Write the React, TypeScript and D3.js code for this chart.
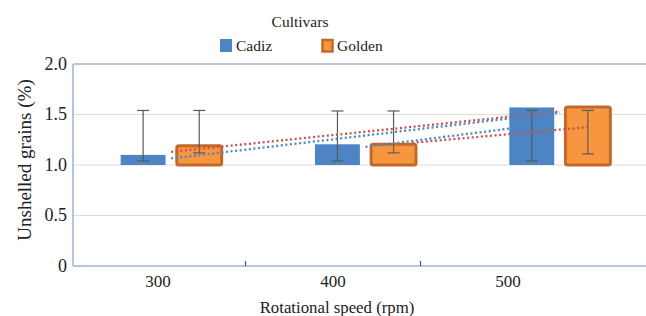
import * as d3 from 'd3'

// rotational speeds (categories)
const speeds = ['300', '400', '500']
const series = ['Cadiz', 'Golden']

// bar heights (% unshelled grains), bars rise from the 1.0 base
const cadiz = [1.1, 1.205, 1.57]
const golden = [1.19, 1.205, 1.575]

// error bar ends
const cadizErrHigh = [1.54, 1.535, 1.54]
const cadizErrLow = [1.04, 1.04, 1.04]
const goldenErrHigh = [1.54, 1.535, 1.54]
const goldenErrLow = [1.12, 1.12, 1.11]

// dotted trend lines: [category position, value]
const cadizTrend: [number, number][] = [[0, 1.065], [2, 1.52]]
const goldenTrend: [number, number][] = [[0, 1.13], [2, 1.53]]
const cadizTrend2: [number, number][] = [[1.0, 1.18], [1.74, 1.36]]
const goldenTrend2: [number, number][] = [[1.24, 1.22], [2.15, 1.376]]

const yTicks = [0, 0.5, 1.0, 1.5, 2.0]
const yTickLabels = ['0', '0.5', '1.0', '1.5', '2.0']

const W = 646
const H = 316
const BLUE = '#4d84c4'
const ORANGE = '#f7963f'
const ORANGE_EDGE = '#c0692a'
const RED_DOT = '#c8504d'
const AXIS = '#9db4d6'
const GRID = '#dcdcdc'
const FONT = "'Liberation Serif', 'DejaVu Serif', serif"

export default function App() {
  const left = 73
  const y = d3.scaleLinear().domain([0, 2]).range([266, 64])

  // axis label positions
  const xLab = d3.scaleBand<string>().domain(speeds).range([70.5, 595.5])
  // bar group positions
  const xBar = d3.scaleBand<string>().domain(speeds).range([74, 657])
  const groupW = 101
  const x1 = d3.scaleBand<string>().domain(series).range([0, groupW]).paddingInner(0.2)
  const groupX = (s: string) => (xBar(s) as number) + xBar.bandwidth() / 2 - groupW / 2
  const xTrend = d3.scaleLinear().domain([0, 2]).range([
    (xBar('300') as number) + xBar.bandwidth() / 2,
    (xBar('500') as number) + xBar.bandwidth() / 2,
  ])
  const line = d3.line<[number, number]>().x(d => xTrend(d[0])).y(d => y(d[1]))

  const base = 1.0
  const bars = [
    { name: 'Cadiz', vals: cadiz, hi: cadizErrHigh, lo: cadizErrLow },
    { name: 'Golden', vals: golden, hi: goldenErrHigh, lo: goldenErrLow },
  ]
  const txt = { fontFamily: FONT, fill: '#222' }

  return (
    <div style={{ position: 'absolute', left: 0, top: 0 }}>
      <svg width={W} height={H} style={{ display: 'block', background: '#fff' }}>
        {/* legend */}
        <text x={300} y={27} textAnchor="middle" fontSize={15.5} style={txt}>Cultivars</text>
        <rect x={220} y={39} width={12} height={13} fill={BLUE} />
        <text x={236} y={51} fontSize={15.5} style={txt}>Cadiz</text>
        <rect x={322.5} y={40} width={10} height={11.5} fill={ORANGE} stroke={ORANGE_EDGE} strokeWidth={2.5} />
        <text x={337} y={51} fontSize={15.5} style={txt}>Golden</text>

        {/* grid */}
        {yTicks.slice(1, 4).map(t => (
          <line key={t} x1={left} x2={W} y1={y(t)} y2={y(t)} stroke={GRID} strokeWidth={1.2} />
        ))}
        <line x1={left} x2={W} y1={y(2)} y2={y(2)} stroke={AXIS} strokeWidth={1.3} />

        {/* y axis */}
        <line x1={left} x2={left} y1={y(2)} y2={y(0)} stroke={AXIS} strokeWidth={1.5} />
        {yTicks.map((t, i) => (
          <text key={t} x={67} y={y(t) + 5.5} textAnchor="end" fontSize={18} style={txt}>{yTickLabels[i]}</text>
        ))}
        <text
          transform={`translate(31,${160}) rotate(-90)`}
          textAnchor="middle"
          fontSize={19}
          style={txt}
        >Unshelled grains (%)</text>

        {/* bars */}
        {bars.map(b =>
          speeds.map((s, i) => {
            const bx = groupX(s) + (x1(b.name) as number)
            const top = y(b.vals[i])
            return b.name === 'Cadiz' ? (
              <rect key={b.name + s} x={bx} y={top} width={x1.bandwidth()} height={y(base) - top} fill={BLUE} />
            ) : (
              <rect key={b.name + s} x={bx} y={top} width={x1.bandwidth()} height={y(base) - top}
                fill={ORANGE} stroke={ORANGE_EDGE} strokeWidth={3} rx={2} />
            )
          })
        )}

        {/* error bars */}
        {bars.map(b =>
          speeds.map((s, i) => {
            const cx = groupX(s) + (x1(b.name) as number) + x1.bandwidth() / 2
            return (
              <g key={'e' + b.name + s} stroke="#5a5a5a" strokeWidth={1.2}>
                <line x1={cx} x2={cx} y1={y(b.hi[i])} y2={y(b.lo[i])} />
                <line x1={cx - 6} x2={cx + 6} y1={y(b.hi[i])} y2={y(b.hi[i])} />
                <line x1={cx - 6} x2={cx + 6} y1={y(b.lo[i])} y2={y(b.lo[i])} />
              </g>
            )
          })
        )}

        {/* trend lines */}
        <path d={line(goldenTrend) as string} fill="none" stroke={RED_DOT} strokeWidth={2.3} strokeDasharray="2 2.6" />
        <path d={line(cadizTrend) as string} fill="none" stroke={BLUE} strokeWidth={2.3} strokeDasharray="2 2.6" />
        <path d={line(cadizTrend2) as string} fill="none" stroke={BLUE} strokeWidth={2.3} strokeDasharray="2 2.6" />
        <path d={line(goldenTrend2) as string} fill="none" stroke={RED_DOT} strokeWidth={2.3} strokeDasharray="2 2.6" />

        {/* x axis */}
        <line x1={left} x2={W} y1={y(0)} y2={y(0)} stroke={AXIS} strokeWidth={1.5} />
        {speeds.slice(0, 2).map(s => {
          const tx = (xLab(s) as number) + xLab.bandwidth()
          return <line key={'t' + s} x1={tx} x2={tx} y1={y(0) - 5} y2={y(0)} stroke="#555" strokeWidth={1.2} />
        })}
        {speeds.map(s => (
          <text key={'l' + s} x={(xLab(s) as number) + xLab.bandwidth() / 2} y={287} textAnchor="middle" fontSize={17} style={txt}>{s}</text>
        ))}
        <text x={337} y={313} textAnchor="middle" fontSize={16.8} style={txt}>Rotational speed (rpm)</text>
      </svg>
    </div>
  )
}
